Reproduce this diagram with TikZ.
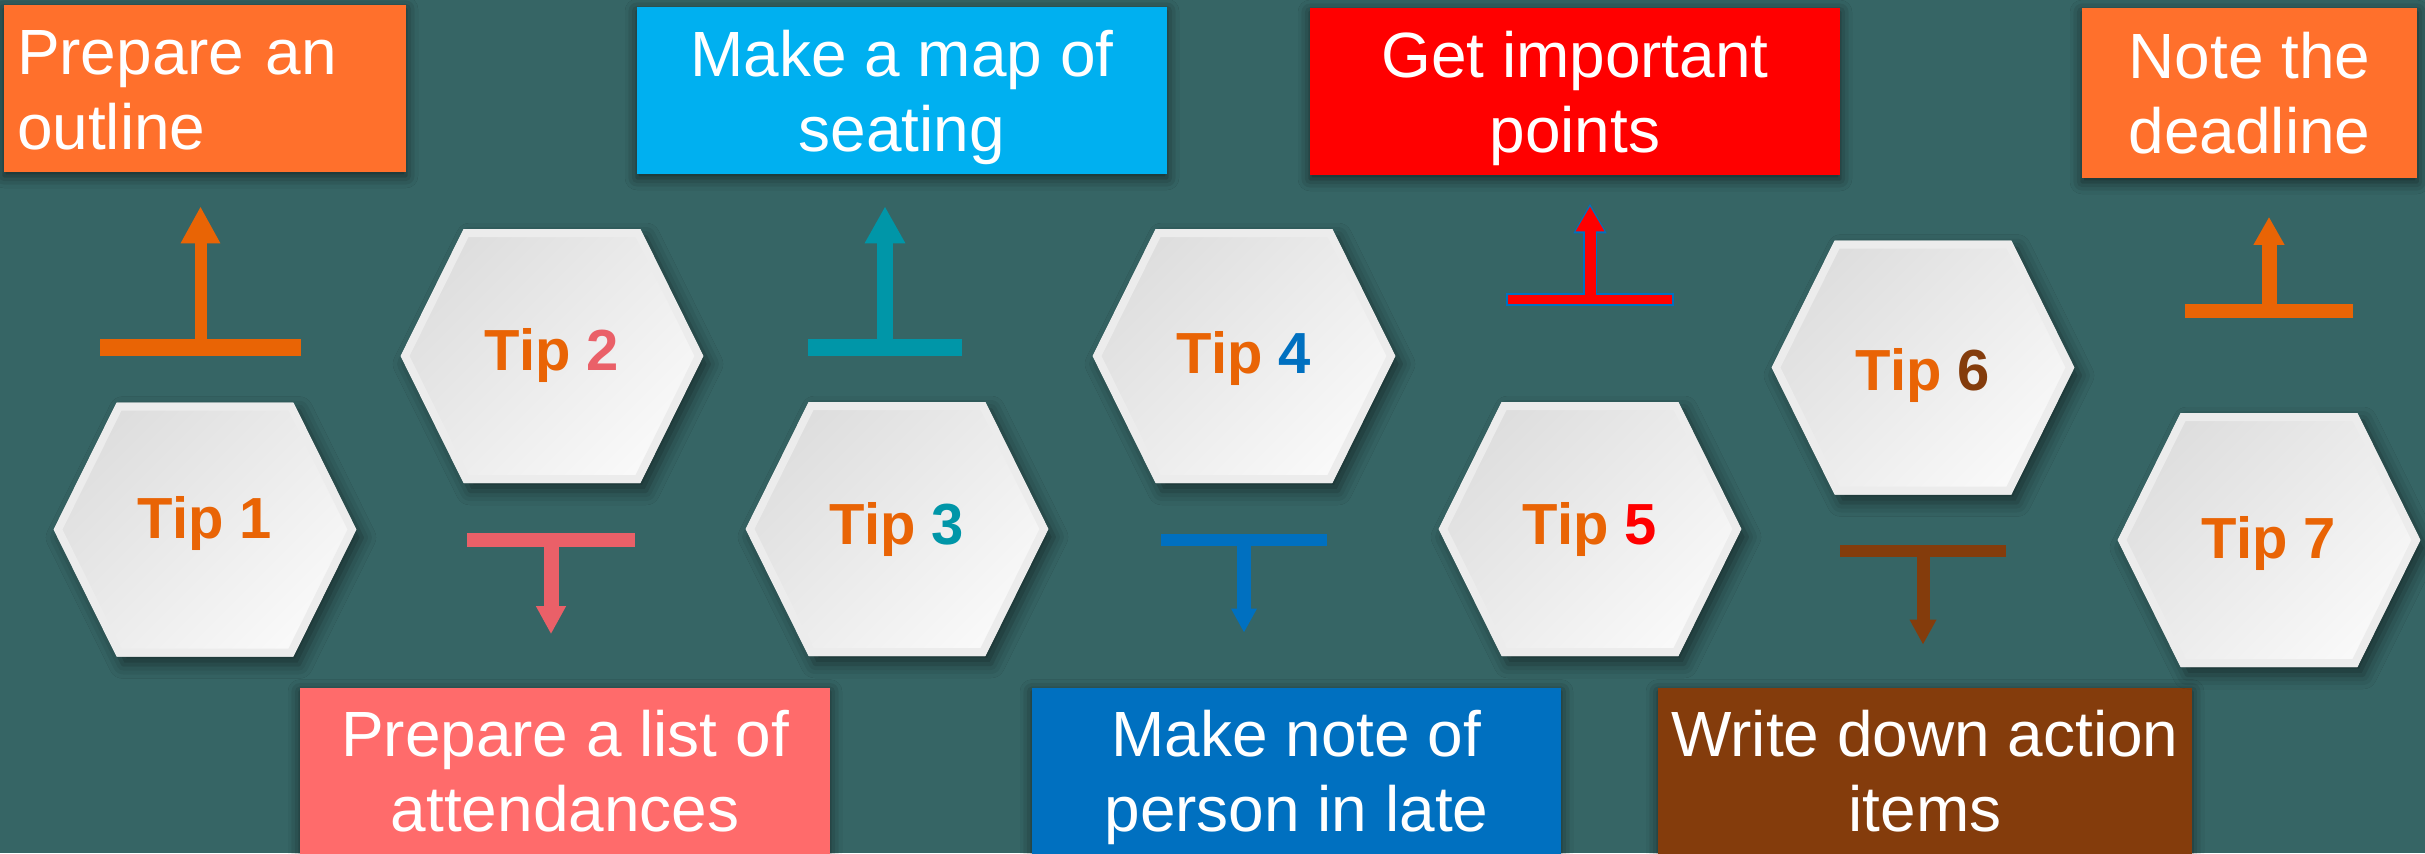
\documentclass[tikz,border=0pt]{standalone}
\usepackage{fontspec}
\setmainfont{Liberation Sans}
\usetikzlibrary{arrows.meta,shadows.blur}
\newlength\pxl
\setlength\pxl{0.02cm}
\newcommand\bs{\rule[-7.4pt]{0pt}{41.5pt}}
\definecolor{bg}{RGB}{54,101,101}
\definecolor{orangebox}{RGB}{255,112,44}
\definecolor{skybox}{RGB}{0,176,240}
\definecolor{redbox}{RGB}{255,0,0}
\definecolor{salmonbox}{RGB}{255,107,107}
\definecolor{bluebox}{RGB}{0,112,192}
\definecolor{brownbox}{RGB}{132,60,12}
\definecolor{tiporange}{RGB}{233,100,5}
\definecolor{tipsalmon}{RGB}{234,96,104}
\definecolor{tipteal}{RGB}{0,150,168}
\definecolor{hexborder}{RGB}{236,236,236}
\definecolor{hexdark}{RGB}{222,222,222}
\definecolor{hexlight}{RGB}{249,249,249}
\tikzset{
  infobox/.style={rectangle, inner xsep=0pt, inner ysep=0pt, text=white, align=center,
    font=\fontsize{36.4pt}{42.7pt}\selectfont, minimum height=167\pxl,
    blur shadow={shadow xshift=0pt, shadow yshift=-4\pxl, shadow blur radius=12\pxl, shadow opacity=60}},
  hexface/.style={top color=hexdark, bottom color=hexlight, shading angle=45,
    blur shadow={shadow xshift=6\pxl, shadow yshift=-8\pxl, shadow blur radius=14\pxl, shadow opacity=50}},
  hexedge/.style={draw=hexborder, line width=8\pxl, line join=miter},
  tiptext/.style={font=\fontsize{33pt}{40pt}\selectfont\bfseries, text=tiporange, inner sep=0pt},
  tbar/.style={rectangle, inner sep=0pt, draw=none},
  shaft/.style={line width=#1\pxl},
}
% name, x, y, label, vertical label offset
\newcommand\hexa[5]{%
  \path[hexface] (#2-151,#3) -- (#2-88,#3-127) -- (#2+88,#3-127) -- (#2+151,#3) -- (#2+88,#3+127) -- (#2-88,#3+127) -- cycle;
  \path[hexedge] (#2-147,#3) -- (#2-86,#3-123) -- (#2+86,#3-123) -- (#2+147,#3) -- (#2+86,#3+123) -- (#2-86,#3+123) -- cycle;
  \node[tiptext] (#1) at (#2,#3+#5) {#4};
}
\begin{document}
\begin{tikzpicture}[x=0.02cm,y=-0.02cm]
\useasboundingbox (0,0) rectangle (2425,853);
\fill[bg] (0,0) rectangle (2425,853);

% top boxes
\node[infobox, fill=orangebox, align=left, text width=376\pxl, inner xsep=13\pxl] (b1) at (205,88.5) {\bs Prepare an\\\bs outline};
\node[infobox, fill=skybox, minimum width=530\pxl] (b3) at (902,90.5) {\bs Make a map of\\\bs seating};
\node[infobox, fill=redbox, minimum width=530\pxl] (b5) at (1575,91.5) {\bs Get important\\\bs points};
\node[infobox, fill=orangebox, minimum width=335\pxl, minimum height=170\pxl] (b7) at (2249.5,93) {\bs Note the\\\bs deadline};
% bottom boxes
\node[infobox, fill=salmonbox, minimum width=530\pxl] (b2) at (565,771) {\bs Prepare a list of\\\bs attendances};
\node[infobox, fill=bluebox, minimum width=529\pxl] (b4) at (1296.5,771) {\bs Make note of\\\bs person in late};
\node[infobox, fill=brownbox, minimum width=534\pxl] (b6) at (1925,771) {\bs Write down action\\\bs items};

% hexagons
\hexa{t1}{205}{529.5}{Tip 1}{-6}
\hexa{t2}{552}{356}{Tip \textcolor{tipsalmon}{2}}{0}
\hexa{t3}{897}{529}{Tip \textcolor{tipteal}{3}}{0}
\hexa{t4}{1244}{356}{Tip \textcolor{bluebox}{4}}{2.5}
\hexa{t5}{1590}{529}{Tip \textcolor{redbox}{5}}{0}
\hexa{t6}{1923}{367.5}{Tip \textcolor{brownbox}{6}}{7.5}
\hexa{t7}{2269}{540}{Tip 7}{3.5}

% T arrows
\node[tbar, fill=tiporange, minimum width=201\pxl, minimum height=17\pxl] (r1) at (200.5,347.5) {};
\draw[shaft=12, draw=tiporange, -{Triangle[length=21.05pt,width=21.05pt]}, shorten >=34\pxl] (r1.north) -- (r1.north |- b1.south);

\node[tbar, fill=tipsalmon, minimum width=168\pxl, minimum height=14\pxl] (r2) at (551,540) {};
\draw[shaft=15, draw=tipsalmon, -{Triangle[length=15.93pt,width=15.93pt]}, shorten >=53\pxl] (r2.south) -- (r2.south |- b2.north);

\node[tbar, fill=tipteal, minimum width=154\pxl, minimum height=17\pxl] (r3) at (885,347.5) {};
\draw[shaft=16, draw=tipteal, -{Triangle[length=21.05pt,width=21.62pt]}, shorten >=32\pxl] (r3.north) -- (r3.north |- b3.south);

\node[tbar, fill=bluebox, minimum width=166\pxl, minimum height=12\pxl] (r4) at (1244,540) {};
\draw[shaft=14, draw=bluebox, -{Triangle[length=13.66pt,width=13.66pt]}, shorten >=54.5\pxl] (r4.south) -- (r4.south |- b4.north);

\coordinate (r5c) at (1590,299.5);
\draw[shaft=14, draw=bluebox, -{Triangle[length=17.07pt,width=17.64pt]}, shorten >=28\pxl] (r5c) -- (r5c |- b5.south);
\node[tbar, fill=redbox, draw=bluebox, line width=1.5\pxl, minimum width=166\pxl, minimum height=11\pxl] (r5) at (r5c) {};
\draw[shaft=11, draw=redbox, -{Triangle[length=14.23pt,width=15.36pt]}, shorten >=31\pxl] ([yshift=-2\pxl]r5.north) -- (r5.north |- b5.south);

\node[tbar, fill=brownbox, minimum width=166\pxl, minimum height=12\pxl] (r6) at (1923,551) {};
\draw[shaft=13, draw=brownbox, -{Triangle[length=14.23pt,width=14.23pt]}, shorten >=42.5\pxl] (r6.south) -- (r6.south |- b6.north);

\node[tbar, fill=tiporange, minimum width=168\pxl, minimum height=14\pxl] (r7) at (2269,311) {};
\draw[shaft=15, draw=tiporange, -{Triangle[length=15.93pt,width=16.50pt]}, shorten >=38.5\pxl] (r7.north) -- (r7.north |- b7.south);
\end{tikzpicture}
\end{document}
